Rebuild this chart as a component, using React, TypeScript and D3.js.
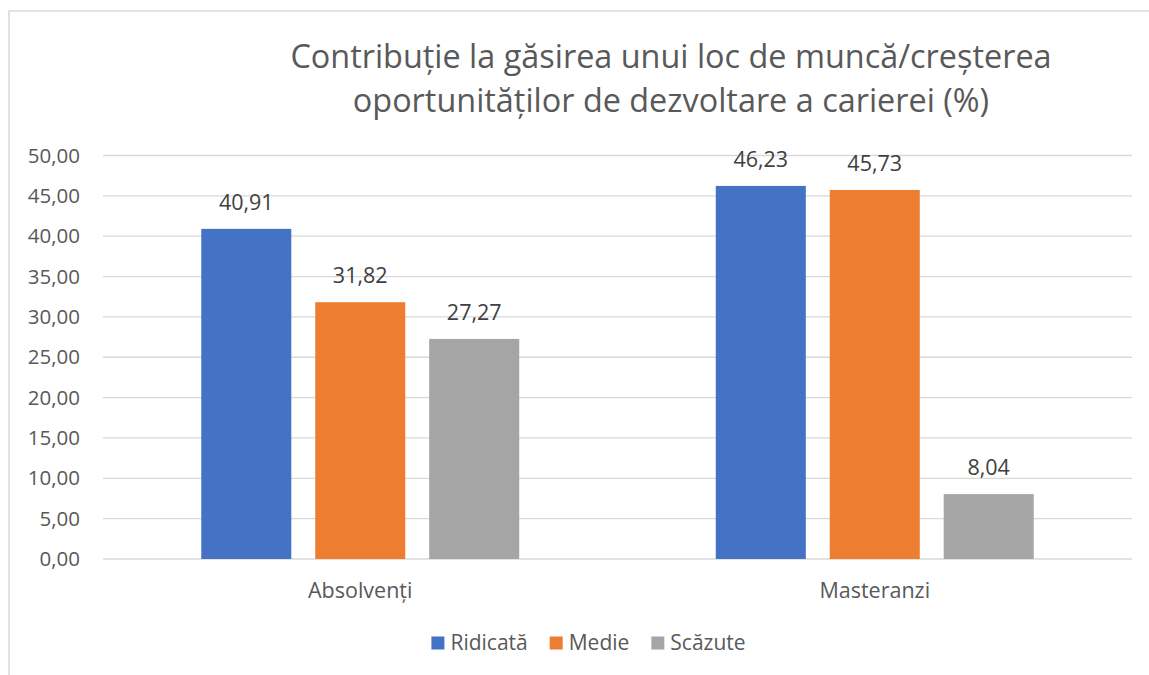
import React, { useEffect, useRef } from "react";
import * as d3 from "d3";

// chart data
const categories = ["Absolvenți", "Masteranzi"];
const seriesNames = ["Ridicată", "Medie", "Scăzute"];
const seriesColors = ["#4472C4", "#ED7D31", "#A5A5A5"];
const ridicata = [40.91, 46.23];
const medie = [31.82, 45.73];
const scazute = [27.27, 8.04];
const yTicks = [0, 5, 10, 15, 20, 25, 30, 35, 40, 45, 50];
const titleLines = [
  "Contribuție la găsirea unui loc de muncă/creșterea",
  "oportunităților de dezvoltare a carierei (%)",
];

const W = 1149;
const H = 675;
const FONT = "'Open Sans', 'Noto Sans', sans-serif";

const fmt = (v: number) => v.toFixed(2).replace(".", ",");

export default function App() {
  const ref = useRef<SVGSVGElement>(null);

  useEffect(() => {
    const svg = d3.select(ref.current);
    svg.selectAll("*").remove();

    const values = [ridicata, medie, scazute];

    // plot area
    const margin = { top: 155.5, right: 17, bottom: 116, left: 103 };
    const plotW = W - margin.left - margin.right;

    // chart frame
    svg
      .append("rect")
      .attr("x", 9)
      .attr("y", 11)
      .attr("width", W + 10)
      .attr("height", H + 10)
      .attr("fill", "#fff")
      .attr("stroke", "#D9D9D9")
      .attr("stroke-width", 1.5);

    const yScale = d3.scaleLinear().domain([0, 50]).range([H - margin.bottom, margin.top]);
    const x0 = d3
      .scaleBand<string>()
      .domain(categories)
      .range([margin.left, margin.left + plotW])
      .paddingInner(0.382)
      .paddingOuter(0.191);
    const x1 = d3
      .scaleBand<string>()
      .domain(seriesNames)
      .range([0, x0.bandwidth()])
      .paddingInner(0.21)
      .paddingOuter(0);

    // Title
    svg
      .append("g")
      .selectAll("text")
      .data(titleLines)
      .join("text")
      .attr("x", 671)
      .attr("y", (d, i) => 68 + i * 44)
      .attr("text-anchor", "middle")
      .attr("font-family", FONT)
      .attr("font-size", 32.4)
      .attr("fill", "#595959")
      .text((d) => d);

    // Gridlines
    svg
      .append("g")
      .selectAll("line")
      .data(yTicks)
      .join("line")
      .attr("x1", margin.left)
      .attr("x2", margin.left + plotW)
      .attr("y1", (d) => yScale(d))
      .attr("y2", (d) => yScale(d))
      .attr("stroke", "#D9D9D9")
      .attr("stroke-width", 1.3);

    // Y axis labels
    svg
      .append("g")
      .selectAll("text")
      .data(yTicks)
      .join("text")
      .attr("x", 80)
      .attr("y", (d) => yScale(d))
      .attr("dy", "0.35em")
      .attr("text-anchor", "end")
      .attr("font-family", FONT)
      .attr("font-size", 20.5)
      .attr("fill", "#595959")
      .text((d) => fmt(d));

    // Bars
    const groups = svg
      .append("g")
      .selectAll("g")
      .data(categories)
      .join("g")
      .attr("transform", (d) => `translate(${x0(d)},0)`);

    groups.each(function (cat, ci) {
      const g = d3.select(this);
      const rows = seriesNames.map((s, si) => ({ s, si, v: values[si][ci] }));
      g.selectAll("rect")
        .data(rows)
        .join("rect")
        .attr("x", (d) => x1(d.s)!)
        .attr("y", (d) => yScale(d.v))
        .attr("width", x1.bandwidth())
        .attr("height", (d) => yScale(0) - yScale(d.v))
        .attr("fill", (d) => seriesColors[d.si]);
      g.selectAll("text")
        .data(rows)
        .join("text")
        .attr("x", (d) => x1(d.s)! + x1.bandwidth() / 2)
        .attr("y", (d) => yScale(d.v) - 19)
        .attr("text-anchor", "middle")
        .attr("font-family", FONT)
        .attr("font-size", 21.5)
        .attr("fill", "#404040")
        .text((d) => fmt(d.v));
    });

    // Category labels
    svg
      .append("g")
      .selectAll("text")
      .data(categories)
      .join("text")
      .attr("x", (d) => x0(d)! + x0.bandwidth() / 2)
      .attr("y", H - margin.bottom + 39)
      .attr("text-anchor", "middle")
      .attr("font-family", FONT)
      .attr("font-size", 21.5)
      .attr("fill", "#595959")
      .text((d) => d);

    // Legend
    const legend = svg.append("g");
    const items = legend
      .selectAll("g")
      .data(seriesNames)
      .join("g");
    items
      .append("rect")
      .attr("width", 13)
      .attr("height", 13)
      .attr("y", -13.5)
      .attr("fill", (d, i) => seriesColors[i]);
    items
      .append("text")
      .attr("x", 19)
      .attr("font-family", FONT)
      .attr("font-size", 21)
      .attr("fill", "#595959")
      .text((d) => d);
    let offset = 0;
    const positions: number[] = [];
    items.each(function () {
      positions.push(offset);
      const t = d3.select(this).select("text").node() as SVGTextElement;
      offset += 19 + t.getComputedTextLength() + 22;
    });
    const totalW = offset - 22;
    const startX = 588.5 - totalW / 2;
    items.attr("transform", (d, i) => `translate(${startX + positions[i]},650)`);
  }, []);

  return (
    <svg
      ref={ref}
      width={W}
      height={H}
      style={{ position: "absolute", left: 0, top: 0, background: "#fff" }}
    />
  );
}
